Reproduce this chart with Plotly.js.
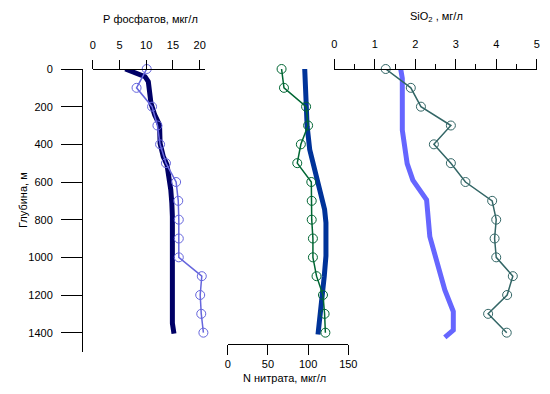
<!DOCTYPE html>
<html>
<head>
<meta charset="utf-8">
<script src="https://cdn.plot.ly/plotly-3.0.1.min.js"></script>
<style>html,body{margin:0;padding:0;background:#fff;}#chart{width:550px;height:394px;}</style>
</head>
<body>
<div id="chart"></div>
<script>
// Sample depths (m)
var depth = [0, 100, 200, 300, 400, 500, 600, 700, 800, 900, 1000, 1100, 1200, 1300, 1400];
// Measured values
var phosphate = [10.1, 8.2, 11.1, 12.1, 12.6, 13.7, 15.6, 16.0, 16.1, 16.1, 16.1, 20.4, 20.1, 20.3, 20.7];
var nitrate = [67, 70, 97.5, 100, 91, 86.5, 104, 104.5, 104.5, 106, 106, 110.5, 118.5, 120.5, 121.5];
var silica = [1.27, 1.89, 2.14, 2.88, 2.46, 2.88, 3.24, 3.90, 4.00, 3.96, 4.00, 4.41, 4.27, 3.80, 4.26];

// Reference (thick) profiles
var phosProfDepth = [0, 23, 41, 67, 129, 182, 244, 297, 395, 465, 510, 572, 642, 713, 783, 1350, 1405];
var phosProf = [6.1, 7.9, 9.8, 10.4, 10.7, 10.9, 11.6, 12.5, 12.6, 13.2, 13.9, 14.3, 14.6, 14.8, 14.9, 14.9, 15.2];
var nitrProfDepth = [0, 182, 304, 428, 551, 657, 745, 816, 993, 1100, 1206, 1312, 1410];
var nitrProf = [95.8, 96.7, 98.8, 102, 109, 115.2, 120.5, 122.2, 122.2, 120.1, 117.3, 114, 112.3];
var siProfDepth = [0, 50, 324, 377, 502, 590, 642, 695, 890, 1014, 1173, 1288, 1386, 1425];
var siProf = [1.64, 1.68, 1.68, 1.71, 1.80, 1.94, 2.10, 2.28, 2.36, 2.53, 2.73, 2.94, 2.94, 2.73];

// Tick labels
var depthTicks = [0, 200, 400, 600, 800, 1000, 1200, 1400];
var phosTicks = [0, 5, 10, 15, 20];
var nitrTicks = [0, 50, 100, 150];
var siTicks = [0, 1, 2, 3, 4, 5];

var W = 550, H = 394;
function fx(p){ return p / W; }
function fy(p){ return 1 - p / H; }

var FONT = {family: 'Liberation Sans, Arial, sans-serif', size: 11, color: '#000'};

var traces = [
  {x: phosProf, y: phosProfDepth, xaxis: 'x', yaxis: 'y', mode: 'lines', cliponaxis: false,
   line: {color: '#000066', width: 5}, hoverinfo: 'skip'},
  {x: phosphate, y: depth, xaxis: 'x', yaxis: 'y', mode: 'lines+markers', cliponaxis: false,
   line: {color: '#6666dd', width: 1.5},
   marker: {symbol: 'circle-open', size: 9, color: '#6666dd', line: {width: 1}}},
  {x: nitrProf, y: nitrProfDepth, xaxis: 'x2', yaxis: 'y', mode: 'lines', cliponaxis: false,
   line: {color: '#003399', width: 5}, hoverinfo: 'skip'},
  {x: nitrate, y: depth, xaxis: 'x2', yaxis: 'y', mode: 'lines+markers', cliponaxis: false,
   line: {color: '#006633', width: 1.5},
   marker: {symbol: 'circle-open', size: 9, color: '#006633', line: {width: 1}}},
  {x: siProf, y: siProfDepth, xaxis: 'x3', yaxis: 'y', mode: 'lines', cliponaxis: false,
   line: {color: '#6666ff', width: 5}, hoverinfo: 'skip'},
  {x: silica, y: depth, xaxis: 'x3', yaxis: 'y', mode: 'lines+markers', cliponaxis: false,
   line: {color: '#336666', width: 1.5},
   marker: {symbol: 'circle-open', size: 9, color: '#336666', line: {width: 1}}}
];

var axCommon = {showgrid: false, zeroline: false, showline: true, linecolor: '#000', linewidth: 1,
  ticks: 'outside', tickcolor: '#000', tickwidth: 1, tickfont: FONT, fixedrange: true};

var layout = {
  width: W, height: H,
  margin: {l: 0, r: 0, t: 0, b: 0},
  paper_bgcolor: '#fff', plot_bgcolor: 'rgba(0,0,0,0)',
  showlegend: false,
  font: FONT,
  yaxis: Object.assign({}, axCommon, {
    domain: [fy(351.5), fy(69)], range: [1500, 0],
    anchor: 'free', position: fx(82),
    tickvals: depthTicks, ticktext: depthTicks.map(String), ticklen: 21, ticklabelstandoff: 6
  }),
  xaxis: Object.assign({}, axCommon, {
    domain: [fx(92.7), fx(205)], range: [0, 21], side: 'top',
    anchor: 'free', position: fy(69),
    tickvals: phosTicks, ticktext: phosTicks.map(String), ticklen: 9, ticklabelstandoff: 7
  }),
  xaxis2: Object.assign({}, axCommon, {
    domain: [fx(227.7), fx(348.3)], range: [0, 150], side: 'bottom',
    anchor: 'free', position: fy(344),
    tickvals: nitrTicks, ticktext: nitrTicks.map(String), ticklen: 10, ticklabelstandoff: 0
  }),
  xaxis3: Object.assign({}, axCommon, {
    domain: [fx(334.3), fx(536.7)], range: [0, 5], side: 'top',
    anchor: 'free', position: fy(69),
    tickvals: siTicks, ticktext: siTicks.map(String), ticklen: 10, ticklabelstandoff: 7,
    minor: {dtick: 0.5, tick0: 0, ticks: 'outside', ticklen: 5, tickcolor: '#000', tickwidth: 1, showgrid: false}
  }),
  annotations: [
    {text: 'Р фосфатов, мкг/л', x: fx(150), y: fy(19), xref: 'paper', yref: 'paper',
     xanchor: 'center', yanchor: 'middle', showarrow: false, font: FONT},
    {text: 'SiO<sub>2</sub> , мг/л', x: fx(436), y: fy(17), xref: 'paper', yref: 'paper',
     xanchor: 'center', yanchor: 'middle', showarrow: false, font: FONT},
    {text: 'N нитрата, мкг/л', x: fx(284), y: fy(378), xref: 'paper', yref: 'paper',
     xanchor: 'center', yanchor: 'middle', showarrow: false, font: FONT},
    {text: 'Глубина, м', x: fx(23), y: fy(200), xref: 'paper', yref: 'paper',
     xanchor: 'center', yanchor: 'middle', textangle: -90, showarrow: false, font: FONT}
  ]
};

Plotly.newPlot('chart', traces, layout, {displayModeBar: false, staticPlot: true});
</script>
</body>
</html>
